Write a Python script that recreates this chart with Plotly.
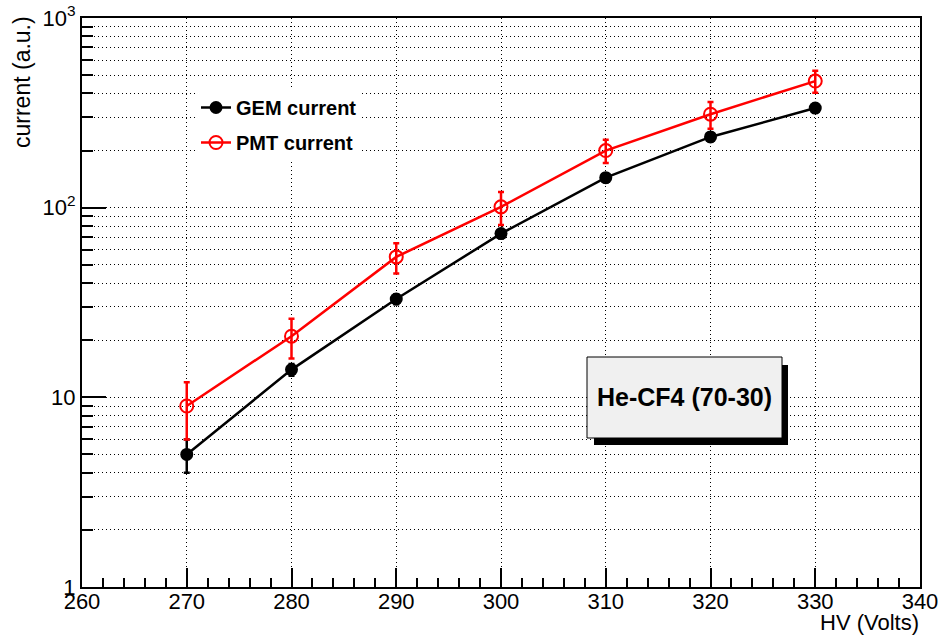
import plotly.graph_objects as go

# HV scan: detector currents vs applied voltage
hv = [270, 280, 290, 300, 310, 320, 330]
gem_current = [5, 14, 33, 73, 144, 236, 335]
gem_err = [1, 1, 2, 4, 8, 12, 17]
pmt_current = [9, 21, 55, 101, 200, 311, 465]
pmt_err = [3, 5, 10, 20, 28, 50, 62]

x_ticks = [260, 270, 280, 290, 300, 310, 320, 330, 340]
y_ticks = [1, 10, 100, 1000]
y_tick_text = ["1", "10", "10<sup>2</sup>", "10<sup>3</sup>"]
y_minor = [m * 10 ** d for d in range(3) for m in range(2, 10)]
x_minor = [v for v in range(260, 341, 2) if v % 10]

FONT = "Liberation Sans, Arial, Helvetica, sans-serif"
GRID_DASH = "1px,3px"

# plot frame in pixels (page is 941 x 639)
L, R, T, B = 82, 920, 18, 587
W, H = R - L, B - T


def px(x):
    return (x - L) / W


def py(y):
    return (B - y) / H


fig = go.Figure()

fig.add_trace(go.Scatter(
    x=hv, y=gem_current, name="<b>GEM current</b>", legendgroup="gem",
    mode="lines+markers",
    line=dict(color="black", width=2.5),
    marker=dict(symbol="circle", size=13, color="black"),
    error_y=dict(type="data", array=gem_err, color="black", thickness=2.5, width=3),
))
fig.add_trace(go.Scatter(
    x=hv, y=pmt_current, name="<b>PMT current</b>", legendgroup="pmt",
    mode="lines+markers",
    line=dict(color="#ff0000", width=2.5),
    marker=dict(symbol="circle-open", size=13, color="#ff0000", line=dict(width=2)),
    error_y=dict(type="data", array=pmt_err, color="#ff0000", thickness=2.5, width=3),
))

# label box with drop shadow
fig.add_shape(type="rect", xref="paper", yref="paper",
              x0=px(594), x1=px(788), y0=py(445), y1=py(365),
              fillcolor="black", line=dict(width=0), layer="above")
fig.add_shape(type="rect", xref="paper", yref="paper",
              x0=px(587), x1=px(782), y0=py(438), y1=py(357),
              fillcolor="#f0f0f0", line=dict(color="black", width=1), layer="above")
fig.add_annotation(xref="paper", yref="paper", x=px(684), y=py(397),
                   text="<b>He-CF4 (70-30)</b>", showarrow=False,
                   font=dict(family=FONT, size=25, color="black"),
                   xanchor="center", yanchor="middle")

# axis titles
fig.add_annotation(xref="paper", yref="paper", x=px(921), y=py(637),
                   text="HV (Volts)", showarrow=False,
                   font=dict(family=FONT, size=22, color="black"),
                   xanchor="right", yanchor="bottom")
fig.add_annotation(xref="paper", yref="paper", x=px(7), y=py(14),
                   text="current (a.u.)", showarrow=False, textangle=-90,
                   font=dict(family=FONT, size=23, color="black"),
                   xanchor="left", yanchor="top")

fig.update_xaxes(
    range=[260, 340], tickvals=x_ticks, ticktext=[str(v) for v in x_ticks],
    automargin=False, ticklabelstandoff=-6,
    ticks="inside", ticklen=19, tickwidth=1.5, tickcolor="black",
    showline=True, linecolor="black", linewidth=2, mirror=True,
    showgrid=True, gridcolor="black", griddash=GRID_DASH, gridwidth=1,
    zeroline=False,
    minor=dict(tickmode="array", tickvals=x_minor, ticks="inside", ticklen=9,
               tickwidth=1.5, tickcolor="black", showgrid=False),
    tickfont=dict(family=FONT, size=22, color="black"),
)
fig.update_yaxes(
    type="log", range=[0, 3], tickvals=y_ticks, ticktext=y_tick_text,
    automargin=False,
    ticks="inside", ticklen=24, tickwidth=1.5, tickcolor="black",
    showline=True, linecolor="black", linewidth=2, mirror=True,
    showgrid=True, gridcolor="black", griddash=GRID_DASH, gridwidth=1,
    zeroline=False,
    minor=dict(tickmode="array", tickvals=y_minor, ticks="inside", ticklen=11,
               tickwidth=1.5, tickcolor="black", showgrid=True,
               gridcolor="black", griddash=GRID_DASH, gridwidth=1),
    tickfont=dict(family=FONT, size=22, color="black"),
)

fig.update_layout(
    width=941, height=639,
    margin=dict(l=L, r=941 - R, t=T, b=639 - B, autoexpand=False),
    paper_bgcolor="white", plot_bgcolor="white",
    showlegend=True,
    legend=dict(x=px(196), y=py(88), xanchor="left", yanchor="top",
                bgcolor="white", borderwidth=0, tracegroupgap=6,
                font=dict(family=FONT, size=20, color="black"),
                itemwidth=30),
    font=dict(family=FONT, color="black"),
)

fig.write_html("out.html")
